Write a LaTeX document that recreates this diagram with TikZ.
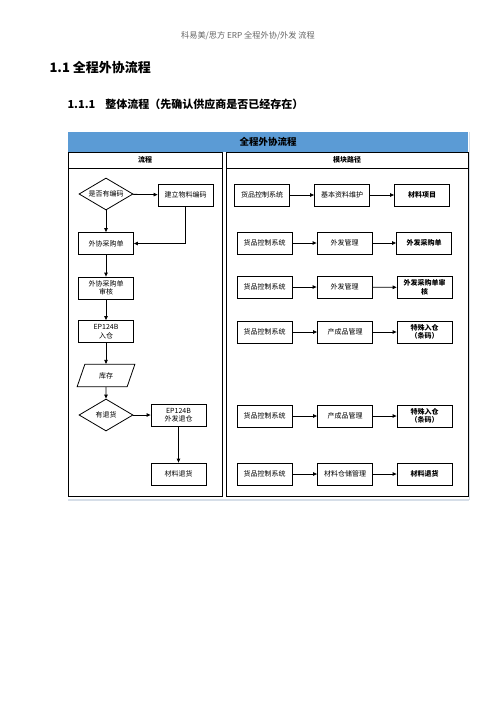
\documentclass[tikz,border=0pt]{standalone}
\usepackage{fontspec}
\setmainfont{Noto Sans CJK SC}
\usetikzlibrary{arrows.meta,shapes.geometric,calc}
\definecolor{bandblue}{HTML}{5B9BD5}
\definecolor{shadow}{HTML}{D6DEE8}
\tikzset{
  box/.style={draw,line width=0.8pt,minimum width=55pt,minimum height=22pt,inner sep=1pt,align=center,font=\fontsize{7}{8.5}\selectfont},
  bbox/.style={box,font=\fontsize{7}{8.5}\selectfont\bfseries},
  dia/.style={draw,diamond,aspect=1.7,line width=0.8pt,minimum width=54pt,minimum height=32pt,inner sep=0pt,font=\fontsize{7}{8.5}\selectfont},
  para/.style={draw,trapezium,trapezium left angle=71,trapezium right angle=109,line width=0.8pt,minimum width=58pt,minimum height=21pt,inner sep=1pt,font=\fontsize{7}{8.5}\selectfont},
  arr/.style={-{Triangle[length=4pt,width=3.5pt]},line width=0.8pt},
  lane/.style={draw,line width=0.8pt},
}
\begin{document}
\begin{tikzpicture}[x=1pt,y=-1pt]
\useasboundingbox[fill=white] (0,0) rectangle (496,702);
% page header
\node[text=black!60,font=\fontsize{8.2}{10}\selectfont] (hdr) at (248,36) {科易美/思方 ERP 全程外协/外发 流程};
\node[anchor=west,font=\fontsize{13}{15}\selectfont\bfseries] (h1) at (46,68) {1.1 全程外协流程};
\node[anchor=west,font=\fontsize{11}{13}\selectfont\bfseries] (h2) at (64,104) {1.1.1\hspace{10pt}整体流程（先确认供应商是否已经存在）};
% frame
\draw[shadow,line width=1.2pt] (68,500) -- (469,500);
\draw[shadow,line width=0.8pt] (469,132) -- (469,500);
\fill[bandblue] (68,132) rectangle (468,152);
\node[font=\fontsize{9.5}{11}\selectfont\bfseries] (title) at (268,142) {全程外协流程};
\draw[lane] (68,152) rectangle (222,496);
\draw[lane] (68,168) -- (222,168);
\draw[lane] (226,152) rectangle (468,496);
\draw[lane] (226,168) -- (468,168);
\node[font=\fontsize{7}{8}\selectfont\bfseries] (lh1) at (145,160) {流程};
\node[font=\fontsize{7}{8}\selectfont\bfseries] (lh2) at (347,160) {模块路径};
% left lane
\node[dia] (d1) at (106,194) {是否有编码};
\node[box] (n1) at (185.5,195) {建立物料编码};
\node[box] (n2) at (106,243.5) {外协采购单};
\node[box] (n3) at (106,288) {外协采购单\\审核};
\node[box] (n4) at (106,331.5) {EP124B\\入仓};
\node[para] (n5) at (106,375.5) {库存};
\node[dia] (d2) at (106,415) {有退货};
\node[box] (n6) at (178.5,415) {EP124B\\外发退仓};
\node[box] (n7) at (178.5,474) {材料退货};
\draw[arr] (d1) -- (n1);
\draw[arr] (d1) -- (n2);
\draw[arr] (n1.south) |- (n2.east);
\draw[arr] (n2) -- (n3);
\draw[arr] (n3) -- (n4);
\draw[arr] (n4) -- (n5);
\draw[arr] (n5) -- (d2);
\draw[arr] (d2) -- (n6);
\draw[arr] (n6) -- (n7);
% right lane
\node[box] (a1) at (262,195) {货品控制系统};
\node[box] (b1) at (342,195) {基本资料维护};
\node[bbox] (c1) at (422,195) {材料项目};
\node[box] (a2) at (264.5,243) {货品控制系统};
\node[box] (b2) at (344.5,243) {外发管理};
\node[bbox] (c2) at (424,243) {外发采购单};
\node[box] (a3) at (264.5,287) {货品控制系统};
\node[box] (b3) at (344.5,287) {外发管理};
\node[bbox] (c3) at (424.5,287.5) {外发采购单审\\核};
\node[box] (a4) at (264.5,332) {货品控制系统};
\node[box] (b4) at (345,332) {产成品管理};
\node[bbox] (c4) at (424.5,332) {特殊入仓\\（条码）};
\node[box] (a5) at (264.5,416) {货品控制系统};
\node[box] (b5) at (345,416) {产成品管理};
\node[bbox] (c5) at (424.5,416) {特殊入仓\\（条码）};
\node[box] (a6) at (264.5,474) {货品控制系统};
\node[box] (b6) at (345,474) {材料仓储管理};
\node[bbox] (c6) at (424.5,474) {材料退货};
\foreach \i in {1,...,6}{
  \draw[arr] (a\i) -- (b\i);
  \draw[arr] (b\i) -- (c\i);
}
\end{tikzpicture}
\end{document}
